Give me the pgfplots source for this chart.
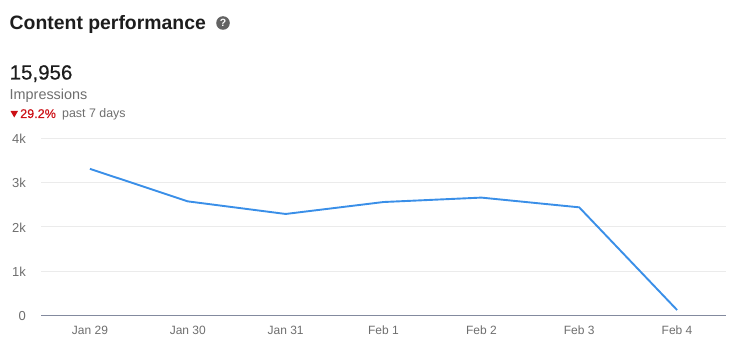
\documentclass[border=0pt]{standalone}
\usepackage{pgfplots}
\pgfplotsset{compat=1.18}
\usepackage{fontspec}
\setmainfont{Liberation Sans}
\definecolor{linebl}{HTML}{3A8FE8}
\definecolor{gridc}{HTML}{EBEBEB}
\definecolor{axisc}{HTML}{838A9E}
\definecolor{tickc}{HTML}{6E6E6E}
\definecolor{inkc}{HTML}{1D1D1D}
\definecolor{redc}{HTML}{CC1016}
\begin{document}
\begin{tikzpicture}[x=1pt,y=1pt]
\useasboundingbox (0,0) rectangle (736,354);
\begin{axis}[
  at={(89.93pt,38.7pt)},anchor=origin,
  scale only axis,width=685pt,height=177pt,
  xmin=-0.5,xmax=6.5,ymin=0,ymax=4,
  clip=false,
  axis x line=bottom,axis y line=none,
  axis line style={draw=axisc,line width=0.9pt,-},
  xtick={0,1,2,3,4,5,6},
  xticklabels={Jan 29,Jan 30,Jan 31,Feb 1,Feb 2,Feb 3,Feb 4},
  x tick label style={font=\fontsize{12}{14}\selectfont,text=tickc,yshift=-7pt},
  major tick length=0pt,
  ymajorgrids=false,
]
\addplot[gridc,line width=0.8pt,forget plot] coordinates {(-0.5,1)(6.5,1)};
\addplot[gridc,line width=0.8pt,forget plot] coordinates {(-0.5,2)(6.5,2)};
\addplot[gridc,line width=0.8pt,forget plot] coordinates {(-0.5,3)(6.5,3)};
\addplot[gridc,line width=0.8pt,forget plot] coordinates {(-0.5,4)(6.5,4)};
\addplot[linebl,line width=1.9pt,line join=round,no markers] coordinates {
 (0,3.31)(1,2.575)(2,2.29)(3,2.56)(4,2.66)(5,2.44)(6,0.12)};
\end{axis}
\foreach \lab/\yy in {0/38.7,1k/82.95,2k/127.2,3k/171.45,4k/215.7}
  \node[anchor=east,text=tickc,font=\fontsize{13}{14}\selectfont,inner sep=0pt] at (26,\yy-0.8) {\lab};
\node[anchor=base west,inner sep=0pt,text=inkc,font=\fontsize{19.4}{21}\selectfont\bfseries] at (9.5,324.5) {Content performance};
\fill[tickc!90!black] (223,331) circle (6.8);
\node[text=white,font=\fontsize{10.5}{11}\selectfont\bfseries,inner sep=0pt] at (223,331) {?};
\node[anchor=base west,inner sep=0pt,text=inkc,font=\fontsize{20.5}{22}\selectfont\addfontfeature{FakeBold=0.5}] at (9.5,274.5) {15,956};
\node[anchor=base west,inner sep=0pt,text=tickc,font=\fontsize{14.4}{16}\selectfont] at (9.5,254.5) {Impressions};
\fill[redc] (10.5,243) -- (18,243) -- (14.25,236.5) -- cycle;
\node[anchor=base west,inner sep=0pt,text=redc,font=\fontsize{12.6}{14}\selectfont\addfontfeature{FakeBold=0.5}] at (20,236) {29.2\%};
\node[anchor=base west,inner sep=0pt,text=tickc,font=\fontsize{12.4}{14}\selectfont] at (62,236) {past 7 days};
\end{tikzpicture}
\end{document}
